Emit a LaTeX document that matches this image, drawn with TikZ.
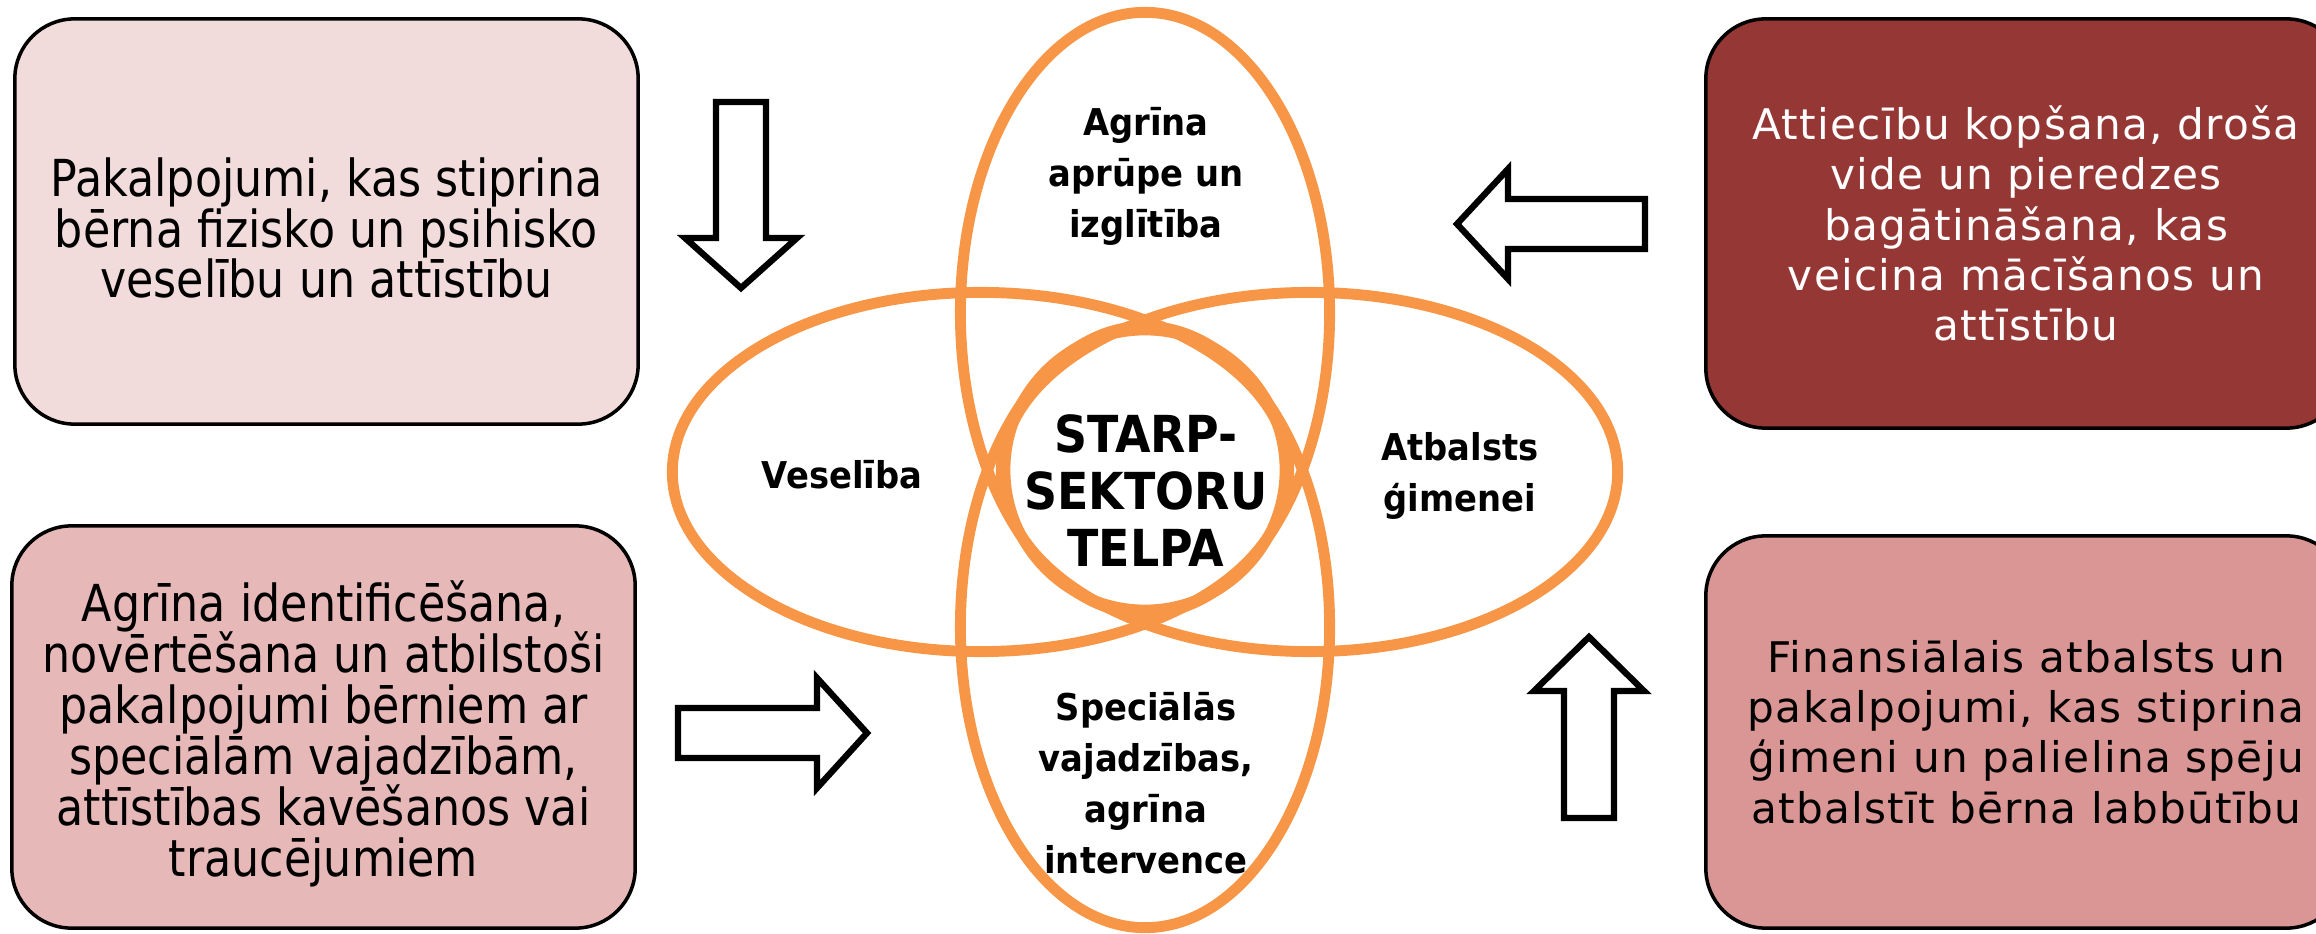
\documentclass[tikz,border=0pt]{standalone}
\usepackage{fontspec}
\usepackage{xcolor}
\usepackage{tikz}
\usetikzlibrary{shapes.geometric}

\newfontfamily\narrowfont[FakeStretch=0.87]{DejaVu Sans}
\newfontfamily\spacedfont[LetterSpace=3]{DejaVu Sans}
\newfontfamily\labelfont[FakeStretch=0.915]{DejaVu Sans}
\newfontfamily\hubfont[FakeStretch=0.9]{DejaVu Sans}
\setlength{\lineskiplimit}{-20pt}

\definecolor{paleRose}{HTML}{F2DCDB}
\definecolor{dustyRose}{HTML}{E6B9B8}
\definecolor{brickRed}{HTML}{953735}
\definecolor{oldRose}{HTML}{D99694}
\definecolor{ringOrange}{HTML}{F79646}

\begin{document}
\begin{tikzpicture}[x=0.01cm, y=-0.01cm,
    card/.style={draw=black, line width=1pt, rounded corners=17pt, inner sep=0pt},
    cardtext/.style={align=center, font=\narrowfont\fontsize{14.5}{14.5}\selectfont},
    ring/.style={draw=ringOrange, line width=3.1pt, inner sep=0pt},
    ringtext/.style={align=center, font=\labelfont\bfseries\fontsize{10.5}{14.5}\selectfont},
    blockarrow/.style={draw=black, fill=white, line width=1.8pt, line join=miter}]
    \clip (0,0) rectangle (2316,934);

    \node[card, fill=paleRose, minimum width=6.23cm, minimum height=4.05cm] (health box) at (326.5,221.5) {};
    \node[cardtext] (health text) at (326.5,228) {Pakalpojumi, kas stiprina\\bērna fizisko un psihisko\\veselību un attīstību};
    \node[card, fill=dustyRose, minimum width=6.23cm, minimum height=4.02cm] (needs box) at (323.5,727) {};
    \node[cardtext] (needs text) at (323.5,734) {Agrīna identificēšana,\\novērtēšana un atbilstoši\\pakalpojumi bērniem ar\\speciālām vajadzībām,\\attīstības kavēšanos vai\\traucējumiem};
    \node[card, fill=brickRed, text=white, minimum width=6.4cm, minimum height=4.09cm, align=center,
          font=\spacedfont\fontsize{12}{14.3}\selectfont] (care box) at (2026,223.5)
          {Attiecību kopšana, droša\\vide un pieredzes\\bagātināšana, kas\\veicina mācīšanos un\\attīstību};
    \node[card, fill=oldRose, minimum width=6.4cm, minimum height=3.92cm, align=center,
          font=\spacedfont\fontsize{12}{14.3}\selectfont] (family box) at (2026,732)
          {Finansiālais atbalsts un\\pakalpojumi, kas stiprina\\ģimeni un palielina spēju\\atbalstīt bērna labbūtību};

    \node[ring, ellipse, minimum width=6.16cm, minimum height=3.59cm] (health ring) at (980.5,472) {};
    \node[ring, ellipse, minimum width=6.16cm, minimum height=3.59cm] (family ring) at (1309.5,472) {};
    \node[ring, ellipse, minimum width=3.69cm, minimum height=6.01cm] (care ring) at (1145,313) {};
    \node[ring, ellipse, minimum width=3.69cm, minimum height=6.01cm] (needs ring) at (1145,627) {};
    \node[ring, circle, minimum size=2.8cm] (hub ring) at (1145,470) {};

    \node[ringtext] (care label) at (1146,176) {Agrīna\\aprūpe un\\izglītība};
    \node[ringtext] (health label) at (842,475) {Veselība};
    \node[ringtext] (family label) at (1460,476) {Atbalsts\\ģimenei};
    \node[ringtext] (needs label) at (1146,783) {Speciālās\\vajadzības,\\agrīna\\intervence};
    \node[align=center, font=\hubfont\bfseries\fontsize{14.5}{16.2}\selectfont] (hub label) at (1146,491)
          {STARP-\\SEKTORU\\TELPA};

    \draw[blockarrow] (716,102) -- (766,102) -- (766,238) -- (797,238) -- (741,288) -- (685,238) -- (716,238) -- cycle;
    \draw[blockarrow] (1645,199) -- (1645,249) -- (1508,249) -- (1508,279) -- (1457,224) -- (1508,169) -- (1508,199) -- cycle;
    \draw[blockarrow] (678,708) -- (817,708) -- (817,678) -- (867,733) -- (817,788) -- (817,758) -- (678,758) -- cycle;
    \draw[blockarrow] (1564,818) -- (1564,691) -- (1534,691) -- (1589,637) -- (1644,691) -- (1614,691) -- (1614,818) -- cycle;
\end{tikzpicture}
\end{document}
